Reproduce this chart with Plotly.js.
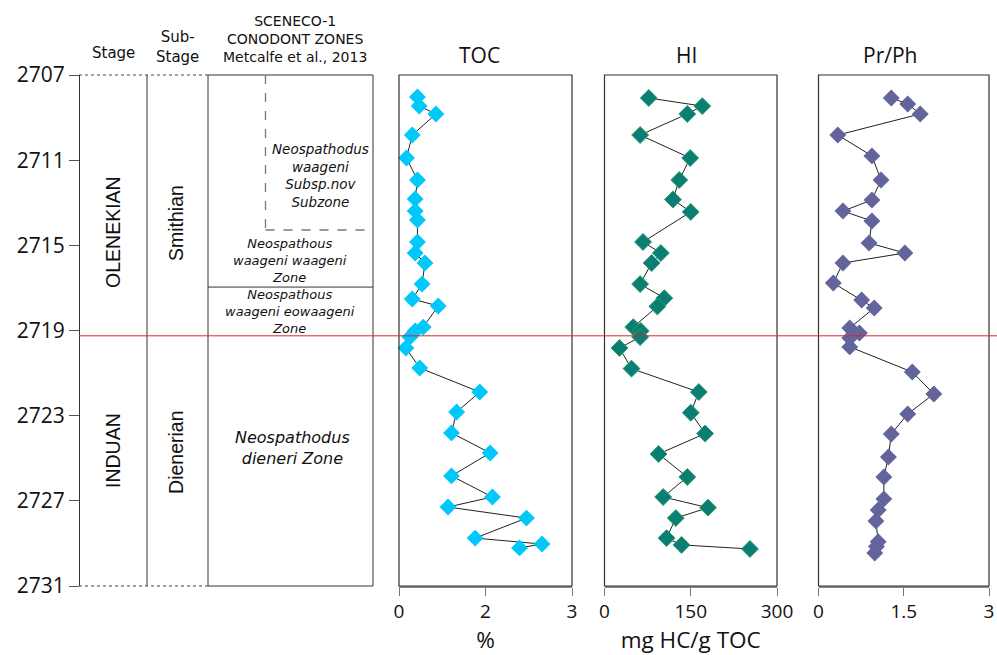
<!DOCTYPE html>
<html>
<head>
<meta charset="utf-8">
<script src="https://cdn.plot.ly/plotly-3.0.1.min.js"></script>
<style>html,body{margin:0;padding:0;background:#fff;}#chart{width:997px;height:655px;}</style>
</head>
<body>
<div id="chart"></div>
<script>
// ---- data (depth in m) ----
const tocDepth = [2708.03, 2708.46, 2708.83, 2709.82, 2710.90, 2711.93, 2712.82, 2713.39, 2713.81, 2714.84, 2715.36, 2715.83, 2716.82, 2717.52, 2717.85, 2718.84, 2719.02, 2719.31, 2719.82, 2720.76, 2721.89, 2722.83, 2723.81, 2724.75, 2725.83, 2726.82, 2727.29, 2727.81, 2728.75, 2729.03, 2729.21];
const tocValue = [0.32, 0.35, 0.64, 0.23, 0.13, 0.32, 0.28, 0.28, 0.32, 0.32, 0.28, 0.45, 0.40, 0.23, 0.68, 0.42, 0.28, 0.19, 0.12, 0.36, 1.40, 1.00, 0.91, 1.58, 0.91, 1.62, 0.85, 2.21, 1.32, 2.48, 2.09];

const hiDepth = [2708.08, 2708.46, 2708.83, 2709.82, 2710.90, 2711.93, 2712.85, 2713.43, 2714.84, 2715.36, 2715.83, 2716.82, 2717.48, 2717.87, 2718.84, 2719.02, 2719.31, 2719.82, 2720.79, 2721.89, 2722.86, 2723.84, 2724.80, 2725.88, 2726.82, 2727.32, 2727.81, 2728.75, 2729.07, 2729.26];
const hiValue = [77, 170, 144, 62, 149, 130, 119, 150, 67, 98, 82, 62, 104, 92, 50, 63, 62, 26, 47, 164, 150, 175, 94, 144, 102, 180, 124, 108, 134, 253];

const prphDepth = [2708.08, 2708.36, 2708.83, 2709.82, 2710.80, 2711.93, 2712.87, 2713.39, 2713.86, 2714.89, 2715.36, 2715.83, 2716.77, 2717.57, 2717.94, 2718.88, 2719.12, 2719.35, 2719.77, 2720.95, 2721.98, 2722.92, 2723.86, 2724.94, 2725.88, 2726.91, 2727.43, 2727.95, 2728.92, 2729.15, 2729.45];
const prphValue = [1.28, 1.57, 1.79, 0.34, 0.94, 1.10, 0.94, 0.43, 0.94, 0.89, 1.52, 0.43, 0.26, 0.76, 0.98, 0.55, 0.72, 0.55, 0.55, 1.65, 2.03, 1.57, 1.28, 1.23, 1.15, 1.15, 1.05, 1.01, 1.05, 1.02, 0.99];

// axes / ticks
const depthRange = [2731, 2707];
const depthTicks = [2707, 2711, 2715, 2719, 2723, 2727, 2731];
const tocTickVals = [0, 1.5, 3];
const tocTickText = ["0", "2", "3"];
const hiTickVals = [0, 150, 300];
const hiTickText = ["0", "150", "300"];
const prphTickVals = [0, 1.5, 3];
const prphTickText = ["0", "1.5", "3"];

// stratigraphy
const stageNames = ["OLENEKIAN", "INDUAN"];
const stageMid = [2714.37, 2724.66];
const subStageNames = ["Smithian", "Dienerian"];
const subStageMid = [2713.95, 2724.75];
const boundaryDepth = 2719.25;       // Olenekian / Induan boundary (red line)
const zoneLineDepth = 2716.96;       // waageni waageni / eowaageni boundary
const subzoneBaseDepth = 2714.28;    // base of subzone (dashed)
const zoneTexts = [
  "<i>Neospathodus<br>waageni<br>Subsp.nov<br>Subzone</i>",
  "<i>Neospathous<br>waageni waageni<br>Zone</i>",
  "<i>Neospathous<br>waageni eowaageni<br>Zone</i>",
  "<i>Neospathodus<br>dieneri Zone</i>"
];
const zoneMid = [2711.72, 2715.69, 2718.13, 2724.52];

// ---- layout geometry (paper fractions) ----
const L = 79, R = 8, T = 75, B = 69, W = 997, H = 655;
const PW = W - L - R, PH = H - T - B;
const px = v => (v - L) / PW;
const py = v => 1 - (v - T) / PH;

const colStageR = px(147), colSubR = px(208), colZoneR = px(373);
const domTOC = [px(399), px(572)];
const domHI = [px(604.5), px(777)];
const domPR = [px(818.5), px(989)];

const lineCol = '#222';
const tickFont = {family: 'Open Sans, sans-serif', size: 19, color: '#111'};

function series(x, y, xa, fill, outline) {
  return {
    x: x, y: y, xaxis: xa, yaxis: 'y', type: 'scatter', mode: 'lines+markers',
    line: {color: lineCol, width: 1},
    marker: {symbol: 'diamond', size: 13, color: fill, line: {color: outline || fill, width: outline ? 1 : 0}},
    cliponaxis: false, showlegend: false, hoverinfo: 'x+y'
  };
}

const data = [
  series(tocValue, tocDepth, 'x2', '#00C8FA', null),
  series(hiValue, hiDepth, 'x3', '#0A7E72', '#2E9E70'),
  series(prphValue, prphDepth, 'x4', '#63649C', null)
];

function bottomAxis(dom, vals, text, title) {
  const ax = {
    domain: dom, anchor: 'y', range: [0, 3], tickvals: vals, ticktext: text,
    ticks: 'outside', ticklen: 8, tickcolor: '#777', tickwidth: 1,
    showline: true, linecolor: '#888', linewidth: 1.5, showgrid: false, zeroline: false,
    tickfont: tickFont, fixedrange: true
  };
  if (title) ax.title = {text: title, font: {family: 'Open Sans, sans-serif', size: 22.5, color: '#111'}, standoff: 7};
  return ax;
}

const xa3 = bottomAxis(domHI, hiTickVals, hiTickText, 'mg HC/g TOC');
xa3.range = [0, 300];

const shapes = [];
// column lines
[colStageR, colSubR, colZoneR].forEach(x => shapes.push({type: 'line', xref: 'paper', yref: 'paper', x0: x, x1: x, y0: 0, y1: 1, line: {color: '#333', width: 1}}));
// dotted top/bottom of stage & sub-stage columns
[0, 1].forEach(y => shapes.push({type: 'line', xref: 'paper', yref: 'paper', x0: 0, x1: colSubR, y0: y, y1: y, line: {color: '#444', width: 1, dash: 'dot'}}));
// solid top/bottom of zone column
[0, 1].forEach(y => shapes.push({type: 'line', xref: 'paper', yref: 'paper', x0: colSubR, x1: colZoneR, y0: y, y1: y, line: {color: '#333', width: 1}}));
// zone boundary
shapes.push({type: 'line', xref: 'paper', yref: 'y', x0: colSubR, x1: colZoneR, y0: zoneLineDepth, y1: zoneLineDepth, line: {color: '#333', width: 1}});
// dashed subzone
shapes.push({type: 'line', xref: 'paper', yref: 'y', x0: px(265.5), x1: px(265.5), y0: 2707, y1: subzoneBaseDepth, line: {color: '#777', width: 1.3, dash: 'dash'}});
shapes.push({type: 'line', xref: 'paper', yref: 'y', x0: px(265.5), x1: px(370), y0: subzoneBaseDepth, y1: subzoneBaseDepth, line: {color: '#777', width: 1.3, dash: 'dash'}});
// panel boxes
['x2', 'x3', 'x4'].forEach(a => shapes.push({type: 'rect', xref: a + ' domain', yref: 'y domain', x0: 0, x1: 1, y0: 0, y1: 1, line: {color: '#333', width: 1.2}}));
// boundary line
shapes.push({type: 'line', xref: 'paper', yref: 'y', x0: 0, x1: px(997), y0: boundaryDepth, y1: boundaryDepth, line: {color: '#D42A2E', width: 1}});

const ann = [];
function addAnn(o) { o.showarrow = false; o.xanchor = 'center'; o.yanchor = 'middle'; ann.push(o); }
const wideFam = 'DejaVu Sans, Verdana, sans-serif';
const hdrFont = {family: wideFam, size: 15, color: '#111'};
addAnn({xref: 'paper', yref: 'paper', x: px(113), y: py(53), text: 'Stage', font: hdrFont});
addAnn({xref: 'paper', yref: 'paper', x: px(177), y: py(47), text: 'Sub-<br>Stage', font: hdrFont});
addAnn({xref: 'paper', yref: 'paper', x: px(295), y: py(39), text: 'SCENECO-1<br>CONODONT ZONES<br>Metcalfe et al., 2013', font: {family: wideFam, size: 14, color: '#111'}});

const titleFont = {family: 'Open Sans, sans-serif', size: 21, color: '#111'};
addAnn({xref: 'paper', yref: 'paper', x: px(479), y: py(55), text: 'TOC', font: titleFont});
addAnn({xref: 'paper', yref: 'paper', x: px(686), y: py(55), text: 'HI', font: titleFont});
addAnn({xref: 'paper', yref: 'paper', x: px(890), y: py(55), text: 'Pr/Ph', font: titleFont});

const rotFont = {family: 'Liberation Sans, Arial, sans-serif', size: 19.5, color: '#111'};
stageNames.forEach((s, i) => addAnn({xref: 'paper', yref: 'y', x: px(113), y: stageMid[i], text: s, textangle: -90, font: rotFont}));
subStageNames.forEach((s, i) => addAnn({xref: 'paper', yref: 'y', x: px(176), y: subStageMid[i], text: s, textangle: -90, font: rotFont}));

const zoneX = [px(320), px(290), px(290), px(292)];
const zoneSize = [13.5, 13, 13, 16];
zoneTexts.forEach((t, i) => addAnn({xref: 'paper', yref: 'y', x: zoneX[i], y: zoneMid[i], text: t,
  font: {family: wideFam, size: zoneSize[i], color: '#111'}}));

const layout = {
  width: W, height: H,
  margin: {l: L, r: R, t: T, b: B, pad: 0},
  paper_bgcolor: '#fff', plot_bgcolor: 'rgba(0,0,0,0)',
  showlegend: false,
  xaxis: {domain: [0, colZoneR], range: [0, 1], visible: false, fixedrange: true, anchor: 'y'},
  xaxis2: bottomAxis(domTOC, tocTickVals, tocTickText, '%'),
  xaxis3: xa3,
  xaxis4: bottomAxis(domPR, prphTickVals, prphTickText, null),
  yaxis: {
    anchor: 'free', position: 0, side: 'left', range: depthRange, tickvals: depthTicks, ticks: 'outside', ticklen: 10,
    tickcolor: '#555', showline: true, linecolor: '#333', linewidth: 1, showgrid: false, zeroline: false,
    tickfont: {family: 'Open Sans, sans-serif', size: 21, color: '#111'}, fixedrange: true
  },
  shapes: shapes,
  annotations: ann
};

Plotly.newPlot('chart', data, layout, {displayModeBar: false, staticPlot: true});
</script>
</body>
</html>
